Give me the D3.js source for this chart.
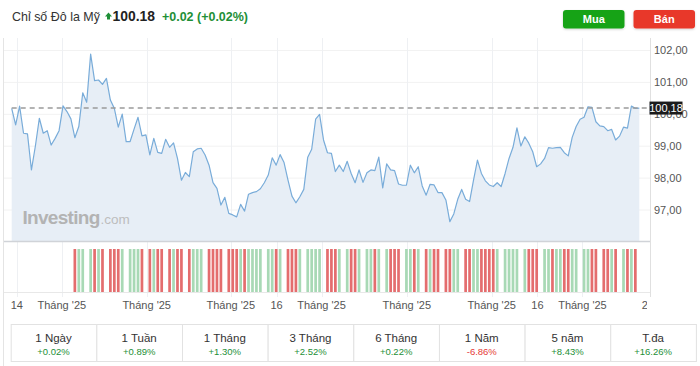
<!DOCTYPE html>
<html><head><meta charset="utf-8">
<script src="https://cdn.jsdelivr.net/npm/d3@7/dist/d3.min.js"></script>
<style>
html,body{margin:0;padding:0;background:#fff;}
svg{display:block;font-family:"Liberation Sans",Arial,Helvetica,sans-serif;}
</style></head>
<body><svg id="c" width="700" height="366"></svg>
<script>
// ---- data ----
const title = "Chỉ số Đô la Mỹ";
const lastPrice = "100.18";
const change = "+0.02 (+0.02%)";
const lastValue = 100.18;
const values = [
100.17,99.65,100.24,99.39,99.37,98.24,98.99,99.86,99.39,99.47,99.02,99.23,99.47,100.25,100.07,99.84,99.25,99.6,100.66,100.36,
101.87,101.04,101.06,100.92,101.11,100.43,100.17,99.58,99.99,99.13,99.13,99.52,99.89,99.31,99.34,98.71,99.23,98.79,98.76,99.2,
98.95,99.09,98.6,97.92,98.16,98.03,98.81,98.9,98.92,98.71,98.39,
97.84,97.66,97.14,97.38,96.88,96.83,96.77,97.16,96.95,97.48,97.53,97.56,97.65,97.84,98.08,98.62,98.39,98.72,98.47,97.92,
97.42,97.21,97.40,97.63,98.64,98.89,99.83,99.98,99.18,98.78,98.76,98.19,98.39,98.19,98.51,98.13,97.84,98.24,97.85,98.15,
98.24,98.22,98.64,97.68,98.43,98.24,98.22,97.80,97.76,97.76,98.39,98.15,98.34,
97.74,97.45,97.79,97.77,97.53,97.53,97.30,96.62,96.86,97.32,97.63,97.32,97.25,97.92,98.55,98.13,97.90,97.77,97.72,97.84,
97.72,98.13,98.6,98.95,99.56,98.99,99.28,99.08,98.81,98.34,98.43,98.60,98.94,98.92,98.94,98.95,98.78,98.68,99.26,99.60,
99.83,99.89,100.22,100.20,99.75,99.62,99.60,99.47,99.51,99.18,99.30,99.58,99.55,100.24,100.17,100.18
];
const volumeStart = 16; // first index with a volume bar
const volumeGaps = [19,24,29,34,39,44,49,54,64,69,74,79,84,89,94,99,104,109,114,124,129,134,144,149,154,159];
const yTicks = [97,98,99,100,101,102];
const xTickPos = [1.3,12.7,34.2,55.5,67.1,78.5,100.1,121.6,133.2,144.6,161.2];
const xTickLabels = ["14","Tháng '25","Tháng '25","Tháng '25","16","Tháng '25","Tháng '25","Tháng '25","16","Tháng '25","23"];
const periods = ["1 Ngày","1 Tuần","1 Tháng","3 Tháng","6 Tháng","1 Năm","5 năm","T.đa"];
const perf = ["+0.02%","+0.89%","+1.30%","+2.52%","+0.22%","-6.86%","+8.43%","+16.26%"];

// ---- drawing ----
const svg = d3.select("#c");
const GREEN = "#1e8f37", RED = "#e53935";
const x = d3.scaleLinear().domain([0, values.length-1]).range([11.7, 639.3]);
const y = d3.scaleLinear().domain([97, 102]).range([209.5, 50]);
const plotL = 4, plotR = 650, plotT = 38, plotB = 241;
const volT = 249, volB = 292;

const defs = svg.append("defs");
defs.append("clipPath").attr("id","clipx").append("rect").attr("x",plotL).attr("y",0).attr("width",plotR-plotL-3).attr("height",366);
const sh = defs.append("filter").attr("id","sh").attr("x","-20%").attr("y","-30%").attr("width","140%").attr("height","170%");
sh.append("feDropShadow").attr("dx",0).attr("dy",1).attr("stdDeviation",1.2).attr("flood-color","#000").attr("flood-opacity",0.18);

// header (fit to reference widths)
function fitText(sel, target, base){
  const w = sel.node().getComputedTextLength();
  sel.attr("font-size", base*target/w);
}
const t1 = svg.append("text").attr("x",12).attr("y",21).attr("font-size",14).attr("fill","#333").text(title);
fitText(t1, 88, 14);
svg.append("path").attr("d","M108.5 12.5 L112 16.5 L110 16.5 L110 19.5 L107 19.5 L107 16.5 L105 16.5 Z").attr("fill",GREEN);
const t2 = svg.append("text").attr("x",112.5).attr("y",21).attr("font-size",14.5).attr("font-weight","bold").attr("fill","#222").text(lastPrice);
fitText(t2, 42.5, 14.5);
const t3 = svg.append("text").attr("x",162).attr("y",21).attr("font-size",12.5).attr("font-weight","bold").attr("fill",GREEN).text(change);
fitText(t3, 86, 12.5);

// buttons
[["Mua",563,"#18a319"],["Bán",633.5,"#e8372b"]].forEach(([t,bx,c])=>{
  svg.append("rect").attr("x",bx).attr("y",10).attr("width",61.5).attr("height",18.5).attr("rx",3).attr("fill",c).attr("filter","url(#sh)");
  svg.append("text").attr("x",bx+30.75).attr("y",23).attr("text-anchor","middle").attr("font-size",11).attr("font-weight","bold").attr("fill","#fff").text(t);
});

// frame lines
svg.append("line").attr("x1",3.5).attr("x2",3.5).attr("y1",38).attr("y2",366).attr("stroke","#e4e4e4");

// grid
const g = svg.append("g");
g.selectAll(".hg").data(yTicks).join("line")
  .attr("x1",plotL).attr("x2",plotR).attr("y1",d=>y(d)+0.5).attr("y2",d=>y(d)+0.5)
  .attr("stroke","#f2f2f2");
g.append("g").attr("clip-path","url(#clipx)").selectAll("line").data(xTickPos).join("line")
  .attr("x1",d=>Math.round(x(d))+0.5).attr("x2",d=>Math.round(x(d))+0.5).attr("y1",plotT).attr("y2",297)
  .attr("stroke","#eef0f3");

// area + line
const area = d3.area().x((d,i)=>x(i)).y0(plotB).y1(d=>y(d));
const line = d3.line().x((d,i)=>x(i)).y(d=>y(d));
svg.append("path").datum(values).attr("d",area).attr("fill","#e6edf6").attr("fill-opacity",0.95);
svg.append("path").datum(values).attr("d",line).attr("fill","none").attr("stroke","#79acd9").attr("stroke-width",1.2).attr("stroke-linejoin","round");

// watermark
const wm = svg.append("text").attr("x",22.5).attr("y",224).attr("font-size",19).attr("fill","#b3b3b3");
wm.append("tspan").attr("font-weight","bold").attr("letter-spacing",-0.7).text("Investing");
wm.append("tspan").attr("font-size",13.5).attr("fill","#bdbdbd").attr("dx",1).text(".com");

// pane separators
svg.append("line").attr("x1",plotL).attr("x2",plotR).attr("y1",241.5).attr("y2",241.5).attr("stroke","#d0d3d8").attr("stroke-width",1.5);
svg.append("line").attr("x1",plotL).attr("x2",plotR).attr("y1",292.5).attr("y2",292.5).attr("stroke","#e8e8e8");

// volume bars
const gapSet = new Set(volumeGaps);
const vol = values.map((v,i)=>({i, up: i>0 ? v>=values[i-1] : true})).filter(d=>d.i>=volumeStart && !gapSet.has(d.i));
svg.append("g").selectAll("rect").data(vol).join("rect")
  .attr("x",d=>x(d.i)-1.35).attr("width",2.7).attr("y",volT).attr("height",volB-volT)
  .attr("fill",d=>d.up?"#a8d9b5":"#e46d6e");

// dashed last value line
svg.append("line").attr("x1",11.7).attr("x2",plotR).attr("y1",y(lastValue)).attr("y2",y(lastValue))
  .attr("stroke","#9a9a9a").attr("stroke-width",1.4).attr("stroke-dasharray","5,4");

// right axis
svg.append("line").attr("x1",plotR+0.5).attr("x2",plotR+0.5).attr("y1",38).attr("y2",297).attr("stroke","#e0e0e0");
const fmt = v => d3.format(".2f")(v).replace(".",",");
svg.append("g").selectAll("text").data(yTicks).join("text")
  .attr("x",654).attr("y",d=>y(d)+4).attr("font-size",11).attr("fill","#555").text(d=>fmt(d));
svg.append("rect").attr("x",649.5).attr("y",y(lastValue)-6.5).attr("width",33).attr("height",13).attr("fill","#1b1b1b");
svg.append("text").attr("x",666).attr("y",y(lastValue)+4).attr("text-anchor","middle").attr("font-size",11).attr("fill","#fff").text(fmt(lastValue));

// x axis labels
svg.append("g").attr("clip-path","url(#clipx)").selectAll("text").data(xTickPos).join("text")
  .attr("x",d=>x(d)).attr("y",308.5).attr("text-anchor","middle").attr("font-size",11).attr("fill","#555")
  .text((d,i)=>xTickLabels[i]);

// performance table
const cx = d3.scaleLinear().domain([0, periods.length]).range([10.7, 695.9]);
const cells = svg.append("g").selectAll("g").data(periods).join("g");
cells.append("rect").attr("x",(d,i)=>cx(i)+0.5).attr("y",324.5).attr("width",(d,i)=>cx(i+1)-cx(i)).attr("height",37)
  .attr("fill","#fff").attr("stroke","#e2e2e2");
cells.append("text").attr("x",(d,i)=>(cx(i)+cx(i+1))/2).attr("y",341.5).attr("text-anchor","middle")
  .attr("font-size",11.5).attr("fill","#333").text(d=>d);
cells.append("text").attr("x",(d,i)=>(cx(i)+cx(i+1))/2).attr("y",354.5).attr("text-anchor","middle")
  .attr("font-size",9.5).attr("fill",(d,i)=>perf[i].startsWith("-")?RED:GREEN).text((d,i)=>perf[i]);
</script></body></html>
